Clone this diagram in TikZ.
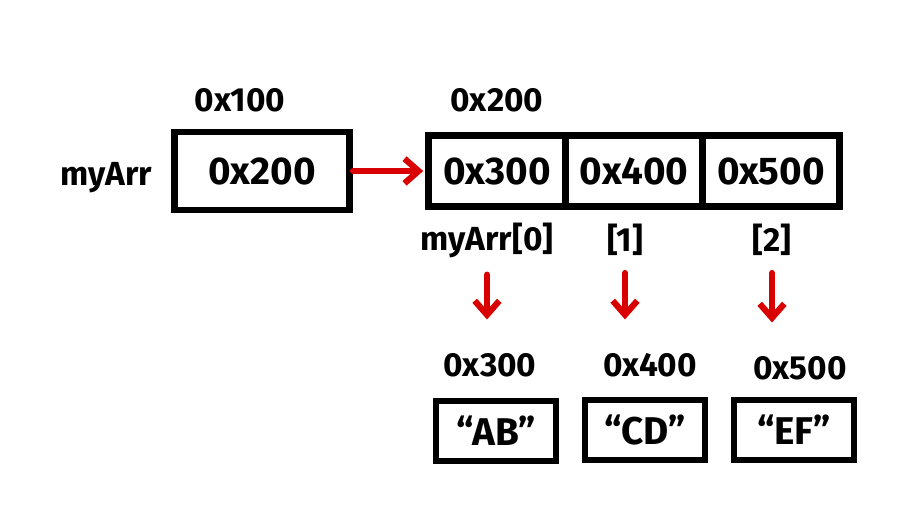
\documentclass[tikz,border=0pt]{standalone}
\usepackage{fontspec}
\setmainfont{Fira Sans}
\usetikzlibrary{arrows.meta,positioning}

\begin{document}
\begin{tikzpicture}[x=0.02cm,y=-0.02cm,>={Straight Barb[length=8pt,width=14pt]},font=\fontsize{22}{26}\selectfont\bfseries]
\tikzstyle{box}=[draw,line width=3.5pt,outer sep=0pt,inner sep=0pt,align=center]
\tikzstyle{cell}=[box,minimum width=2.74cm,minimum height=1.42cm]
\tikzstyle{strbox}=[box,minimum width=2.4cm,minimum height=1.2cm]
\tikzstyle{lbl}=[font=\fontsize{19}{23}\selectfont\bfseries]
\tikzstyle{ptr}=[->,line width=3.5pt,red!85!black,line cap=round]
\useasboundingbox (0,0) rectangle (911,511);
% pointer variable
\node[box,minimum width=3.5cm,minimum height=1.56cm] (var) at (262,171) {0x200};
\node[lbl,anchor=east] (varname) at (158,178) {myArr};
\node[lbl] (varaddr) at (240,100) {0x100};
% array of pointers
\node[cell] (c0) at (497,171) {0x300};
\node[cell,right=0pt of c0] (c1) {0x400};
\node[cell,right=0pt of c1] (c2) {0x500};
\node[lbl] (arraddr) at (497,100) {0x200};
\node[lbl] (idx0) at (487,240) {myArr[0]};
\node[lbl] (idx1) at (625,240) {[1]};
\node[lbl] (idx2) at (772,240) {[2]};
% strings
\node[lbl] (saddr0) at (490,365) {0x300};
\node[lbl] (saddr1) at (650,365) {0x400};
\node[lbl] (saddr2) at (800,368) {0x500};
\node[strbox] (s0) at (496,431) {``AB''};
\node[strbox] (s1) at (645,430) {``CD''};
\node[strbox] (s2) at (794,430) {``EF''};
\draw[ptr,shorten <=2pt,shorten >=3pt] (var.east) -- (c0.west);
\draw[ptr,shorten <=0.22cm,shorten >=0.55cm] (idx0.south) -- (idx0.south |- saddr0.north);
\draw[ptr,shorten <=0.22cm,shorten >=0.55cm] (idx1.south) -- (idx1.south |- saddr1.north);
\draw[ptr,shorten <=0.22cm,shorten >=0.55cm] (idx2.south) -- (idx2.south |- saddr2.north);
\end{tikzpicture}
\end{document}
